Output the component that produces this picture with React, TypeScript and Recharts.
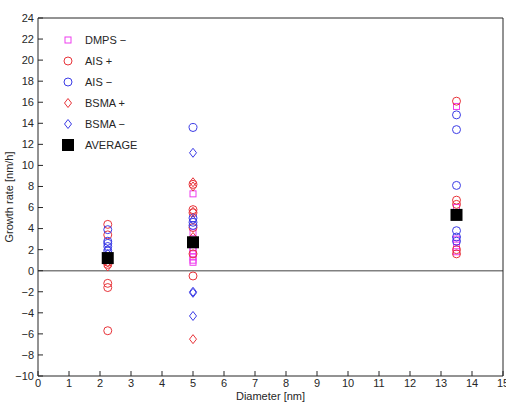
import {
  ScatterChart,
  Scatter,
  XAxis,
  YAxis,
  ReferenceLine,
  Legend,
} from 'recharts';

type Pt = { x: number; y: number };
type MarkerKind = 'square' | 'circle' | 'diamond' | 'filled';

const FONT = '"Liberation Sans", Arial, Helvetica, sans-serif';
const INK = '#262626';

const X_TICKS = [0, 1, 2, 3, 4, 5, 6, 7, 8, 9, 10, 11, 12, 13, 14, 15];
const Y_TICKS = [-10, -8, -6, -4, -2, 0, 2, 4, 6, 8, 10, 12, 14, 16, 18, 20, 22, 24];

// measured diameters of the three size classes
const D_SMALL = 2.25;
const D_MID = 5;
const D_LARGE = 13.5;

const DMPS_MINUS: Pt[] = [
  { x: D_MID, y: 7.3 },
  { x: D_MID, y: 3.6 },
  { x: D_MID, y: 2.2 },
  { x: D_MID, y: 1.9 },
  { x: D_MID, y: 1.6 },
  { x: D_MID, y: 1.3 },
  { x: D_MID, y: 1.0 },
  { x: D_MID, y: 0.8 },
  { x: D_LARGE, y: 15.6 },
  { x: D_LARGE, y: 6.0 },
  { x: D_LARGE, y: 3.0 },
  { x: D_LARGE, y: 2.6 },
  { x: D_LARGE, y: 2.2 },
  { x: D_LARGE, y: 1.8 },
];

const AIS_PLUS: Pt[] = [
  { x: D_SMALL, y: 4.4 },
  { x: D_SMALL, y: 3.4 },
  { x: D_SMALL, y: 0.8 },
  { x: D_SMALL, y: 0.6 },
  { x: D_SMALL, y: -1.2 },
  { x: D_SMALL, y: -1.6 },
  { x: D_SMALL, y: -5.7 },
  { x: D_MID, y: 8.2 },
  { x: D_MID, y: 5.8 },
  { x: D_MID, y: 5.5 },
  { x: D_MID, y: 4.1 },
  { x: D_MID, y: 1.6 },
  { x: D_MID, y: -0.5 },
  { x: D_LARGE, y: 16.1 },
  { x: D_LARGE, y: 6.7 },
  { x: D_LARGE, y: 6.3 },
  { x: D_LARGE, y: 2.0 },
  { x: D_LARGE, y: 1.6 },
];

const AIS_MINUS: Pt[] = [
  { x: D_SMALL, y: 3.9 },
  { x: D_SMALL, y: 2.8 },
  { x: D_SMALL, y: 2.6 },
  { x: D_SMALL, y: 2.3 },
  { x: D_SMALL, y: 1.9 },
  { x: D_MID, y: 13.6 },
  { x: D_MID, y: 5.0 },
  { x: D_MID, y: 4.6 },
  { x: D_MID, y: 4.3 },
  { x: D_LARGE, y: 14.8 },
  { x: D_LARGE, y: 13.4 },
  { x: D_LARGE, y: 8.1 },
  { x: D_LARGE, y: 3.8 },
  { x: D_LARGE, y: 3.2 },
  { x: D_LARGE, y: 2.8 },
];

const BSMA_PLUS: Pt[] = [
  { x: D_SMALL, y: 0.8 },
  { x: D_SMALL, y: 0.4 },
  { x: D_MID, y: 8.4 },
  { x: D_MID, y: 8.0 },
  { x: D_MID, y: 5.6 },
  { x: D_MID, y: 3.2 },
  { x: D_MID, y: -6.5 },
];

const BSMA_MINUS: Pt[] = [
  { x: D_SMALL, y: 2.0 },
  { x: D_SMALL, y: 1.6 },
  { x: D_MID, y: 11.2 },
  { x: D_MID, y: 4.8 },
  { x: D_MID, y: -2.0 },
  { x: D_MID, y: -2.1 },
  { x: D_MID, y: -4.3 },
];

const AVERAGE: Pt[] = [
  { x: D_SMALL, y: 1.2 },
  { x: D_MID, y: 2.7 },
  { x: D_LARGE, y: 5.3 },
];

const SERIES: { name: string; data: Pt[]; color: string; kind: MarkerKind }[] = [
  { name: 'DMPS \u2212', data: DMPS_MINUS, color: '#ee3cee', kind: 'square' },
  { name: 'AIS +', data: AIS_PLUS, color: '#e8343a', kind: 'circle' },
  { name: 'AIS \u2212', data: AIS_MINUS, color: '#3c3ce6', kind: 'circle' },
  { name: 'BSMA +', data: BSMA_PLUS, color: '#e8343a', kind: 'diamond' },
  { name: 'BSMA \u2212', data: BSMA_MINUS, color: '#3c3ce6', kind: 'diamond' },
  { name: 'AVERAGE', data: AVERAGE, color: '#000000', kind: 'filled' },
];

const fmt = (v: number) => (v < 0 ? `\u2212${Math.abs(v)}` : `${v}`);

function Marker({ cx, cy, color, kind }: { cx: number; cy: number; color: string; kind: MarkerKind }) {
  if (cx == null || cy == null) return null;
  switch (kind) {
    case 'square':
      return <rect x={cx - 3} y={cy - 3} width={6} height={6} fill="none" stroke={color} strokeWidth={1} />;
    case 'circle':
      return <circle cx={cx} cy={cy} r={4} fill="none" stroke={color} strokeWidth={1} />;
    case 'diamond':
      return (
        <path
          d={`M${cx},${cy - 4.5} L${cx + 3.5},${cy} L${cx},${cy + 4.5} L${cx - 3.5},${cy} Z`}
          fill="none"
          stroke={color}
          strokeWidth={1}
        />
      );
    default:
      return <rect x={cx - 6} y={cy - 6} width={12} height={12} fill={color} />;
  }
}

const tickText = { fontFamily: FONT, fontSize: 11, fill: INK };
const axisLine = { stroke: INK };
const tickLine = { stroke: INK };

function LegendBox() {
  return (
    <svg width={140} height={130} style={{ display: 'block' }}>
      {SERIES.map((s, i) => (
        <g key={s.name}>
          <Marker cx={13} cy={10 + i * 21} color={s.color} kind={s.kind} />
          <text x={30} y={14 + i * 21} style={tickText}>
            {s.name}
          </text>
        </g>
      ))}
    </svg>
  );
}

export default function App() {
  return (
    <div style={{ position: 'absolute', left: 0, top: 0, background: '#fff' }}>
      <ScatterChart width={506} height={402} margin={{ top: 17, right: 2, bottom: 0, left: 0 }}>
        {/* ticks point inward, as on a boxed axes */}
        <XAxis
          type="number"
          dataKey="x"
          domain={[0, 15]}
          ticks={X_TICKS}
          interval={0}
          allowDataOverflow
          height={26}
          tickSize={-5}
          tickMargin={8}
          tick={tickText}
          tickFormatter={fmt}
          tickLine={tickLine}
          axisLine={axisLine}
          label={{
            content: ({ viewBox }: any) => (
              <text
                x={viewBox.x + viewBox.width / 2}
                y={viewBox.y + 24}
                textAnchor="middle"
                style={tickText}
              >
                Diameter [nm]
              </text>
            ),
          }}
        />
        <XAxis
          xAxisId="top"
          orientation="top"
          type="number"
          dataKey="x"
          domain={[0, 15]}
          ticks={X_TICKS}
          interval={0}
          allowDataOverflow
          height={1}
          tickSize={-5}
          tick={false}
          tickLine={tickLine}
          axisLine={axisLine}
        />
        <YAxis
          type="number"
          dataKey="y"
          domain={[-10, 24]}
          ticks={Y_TICKS}
          interval={0}
          allowDataOverflow
          width={38}
          tickSize={-5}
          tickMargin={9}
          tick={tickText}
          tickFormatter={fmt}
          tickLine={tickLine}
          axisLine={axisLine}
          label={{
            content: ({ viewBox }: any) => {
              const cy = viewBox.y + viewBox.height / 2;
              return (
                <text
                  x={9}
                  y={cy}
                  transform={`rotate(-90, 9, ${cy})`}
                  textAnchor="middle"
                  dominantBaseline="central"
                  style={tickText}
                >
                  Growth rate [nm/h]
                </text>
              );
            },
          }}
        />
        <YAxis
          yAxisId="right"
          orientation="right"
          type="number"
          dataKey="y"
          domain={[-10, 24]}
          ticks={Y_TICKS}
          interval={0}
          allowDataOverflow
          width={1}
          tickSize={-5}
          tick={false}
          tickLine={tickLine}
          axisLine={axisLine}
        />
        <ReferenceLine y={0} stroke="#808080" strokeWidth={1.5} />
        {/* invisible series so the mirrored top/right axes get a domain */}
        <Scatter
          xAxisId="top"
          yAxisId="right"
          data={AVERAGE}
          legendType="none"
          isAnimationActive={false}
          shape={() => <g />}
        />
        {SERIES.map((s) => (
          <Scatter
            key={s.name}
            name={s.name}
            data={s.data}
            isAnimationActive={false}
            shape={(p: any) => <Marker cx={p.cx} cy={p.cy} color={s.color} kind={s.kind} />}
          />
        ))}
        <Legend
          layout="vertical"
          align="center"
          verticalAlign="middle"
          wrapperStyle={{ left: 55, top: 30, width: 140, height: 130 }}
          content={() => <LegendBox />}
        />
      </ScatterChart>
    </div>
  );
}
